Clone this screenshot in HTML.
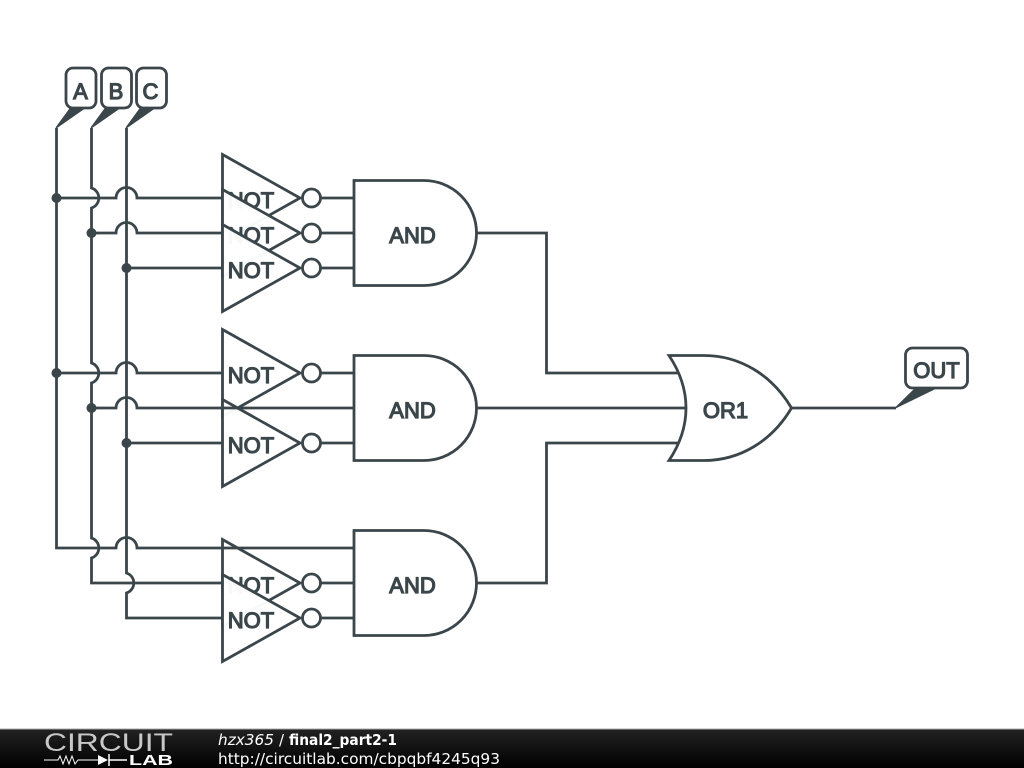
<!DOCTYPE html>
<html><head><meta charset="utf-8"><style>
html,body{margin:0;padding:0;background:#fff}
svg{display:block}
.w{fill:none;stroke:#3b464b;stroke-width:2.800;stroke-linejoin:miter}
.g{fill:#fff;fill-opacity:.96;stroke:#3b464b;stroke-width:2.800;stroke-linejoin:miter}
.s{fill:#fff;stroke:#3b464b;stroke-width:2.800}
.d{fill:#3b464b}
.p{fill:#3b464b;stroke:#3b464b;stroke-width:1.500;stroke-linejoin:round}
.t{font-family:"Liberation Sans",sans-serif;font-size:22px;fill:#3b464b;stroke:#3b464b;stroke-width:1.200;text-anchor:middle}
.f{font-family:"DejaVu Sans",sans-serif;font-size:15px;fill:#fff}
</style></head><body>
<svg width="1024" height="768" viewBox="0 0 1024 768" xmlns="http://www.w3.org/2000/svg">
<defs><linearGradient id="b" x1="0" y1="0" x2="0" y2="1"><stop offset="0" stop-color="#222"/><stop offset="1" stop-color="#000"/></linearGradient></defs>
<rect width="1024" height="768" fill="#fff"/>

<!-- gates group 1 -->
<polygon class="g" points="222.500,154.500 300,198 222.500,241.500"/><text class="t" x="251" y="208">NOT</text>
<polygon class="g" points="222.500,189.500 300,233 222.500,276.500"/><text class="t" x="251" y="243">NOT</text>
<polygon class="g" points="222.500,224.500 300,268 222.500,311.500"/><text class="t" x="251" y="278">NOT</text>
<circle class="s" cx="311.500" cy="198" r="9"/><circle class="s" cx="311.500" cy="233" r="9"/><circle class="s" cx="311.500" cy="268" r="9"/>
<!-- group 2 -->
<polygon class="g" points="222.500,329.500 300,373 222.500,416.500"/><text class="t" x="251" y="383">NOT</text>
<polygon class="g" points="222.500,399.500 300,443 222.500,486.500"/><text class="t" x="251" y="453">NOT</text>
<circle class="s" cx="311.500" cy="373" r="9"/><circle class="s" cx="311.500" cy="443" r="9"/>
<!-- group 3 -->
<polygon class="g" points="222.500,539.500 300,583 222.500,626.500"/><text class="t" x="251" y="593">NOT</text>
<polygon class="g" points="222.500,574.500 300,618 222.500,661.500"/><text class="t" x="251" y="628">NOT</text>
<circle class="s" cx="311.500" cy="583" r="9"/><circle class="s" cx="311.500" cy="618" r="9"/>

<!-- vertical bus wires -->
<path class="w" d="M56.500 128V548H81"/>
<path class="w" d="M91.500 128V188A10.500 10.500 0 0 1 91.500 208V363A10.500 10.500 0 0 1 91.500 383V538A10.500 10.500 0 0 1 91.500 558V583H222"/>
<path class="w" d="M126.500 128V573A10.500 10.500 0 0 1 126.500 593V618H222"/>

<!-- horizontal wires with hops -->
<path class="w" d="M56 198H116A10.500 10.500 0 0 1 137 198H222"/>
<path class="w" d="M91 233H116A10.500 10.500 0 0 1 137 233H222"/>
<path class="w" d="M126 268H222"/>
<path class="w" d="M56 373H116A10.500 10.500 0 0 1 137 373H222"/>
<path class="w" d="M91 408H116A10.500 10.500 0 0 1 137 408H353"/>
<path class="w" d="M126 443H222"/>
<path class="w" d="M81 548H116A10.500 10.500 0 0 1 137 548H353"/>

<!-- inverter outputs -->
<path class="w" d="M320 198H353M320 233H353M320 268H353M320 373H353M320 443H353M320 583H353M320 618H353"/>

<!-- junction dots -->
<g class="d"><circle cx="56.500" cy="198" r="5"/><circle cx="91.500" cy="233" r="5"/><circle cx="126.500" cy="268" r="5"/><circle cx="56.500" cy="373" r="5"/><circle cx="91.500" cy="408" r="5"/><circle cx="126.500" cy="443" r="5"/></g>

<!-- AND gates -->
<path class="s" d="M354 180.500H424A52.500 52.500 0 0 1 424 285.500H354Z"/><text class="t" x="412.500" y="243">AND</text>
<path class="s" d="M354 355.500H424A52.500 52.500 0 0 1 424 460.500H354Z"/><text class="t" x="412.500" y="418">AND</text>
<path class="s" d="M354 530.500H424A52.500 52.500 0 0 1 424 635.500H354Z"/><text class="t" x="412.500" y="593">AND</text>

<!-- to OR -->
<path class="w" d="M477 233H546.500V373H680M477 408H686M477 583H546.500V443H680"/>
<path class="s" d="M669 355.500H704C740 355.500 772 375 791.500 408C772 441 740 460.500 704 460.500H669C680 444 686 427 686 408C686 389 680 372 669 355.500Z"/>
<text class="t" x="725.500" y="418">OR1</text>
<path class="w" d="M792 408H896"/>

<!-- labels -->
<polygon class="p" points="56.500,127.500 70,109 83,109"/>
<polygon class="p" points="91.500,127.500 105,109 118,109"/>
<polygon class="p" points="126.500,127.500 140,109 153,109"/>
<rect class="s" x="66" y="68" width="30" height="40" rx="7"/>
<rect class="s" x="101.500" y="68" width="30" height="40" rx="7"/>
<rect class="s" x="136.500" y="68" width="30" height="40" rx="7"/>
<text class="t" x="80.500" y="99">A</text><text class="t" x="116" y="99">B</text><text class="t" x="150.500" y="99">C</text>
<polygon class="p" points="896,407.500 915,389 934,389"/>
<rect class="s" x="905.500" y="348" width="62" height="40" rx="7"/>
<text class="t" x="936.500" y="378">OUT</text>

<!-- footer -->
<rect x="0" y="729" width="1024" height="39" fill="url(#b)"/>
<rect x="0" y="728.500" width="1024" height="1" fill="#aaa"/>
<text x="44" y="751" textLength="129" lengthAdjust="spacingAndGlyphs" style="font-family:'Liberation Sans',sans-serif;font-size:25px;fill:#c8c8c8">CIRCUIT</text>
<path d="M44 760H58L60 756L63 764L66 756L69 764L72 756L75 764L78 760H98" fill="none" stroke="#fff" stroke-width="1"/>
<polygon points="98,755 108,760 98,765" fill="#fff"/><path d="M109 754V766M109 760H127" stroke="#fff" stroke-width="1.500" fill="none"/>
<text x="129" y="765" textLength="44" lengthAdjust="spacingAndGlyphs" style="font-family:'Liberation Sans',sans-serif;font-size:15px;font-weight:bold;fill:#fff">LAB</text>
<text class="f" x="218" y="745" font-style="italic" textLength="56" lengthAdjust="spacingAndGlyphs">hzx365</text>
<text class="f" x="279" y="745">/</text>
<text class="f" x="289" y="745" font-weight="bold" textLength="108" lengthAdjust="spacingAndGlyphs">final2_part2-1</text>
<text class="f" x="218" y="764" textLength="282" lengthAdjust="spacingAndGlyphs">http://circuitlab.com/cbpqbf4245q93</text>
</svg>
</body></html>
